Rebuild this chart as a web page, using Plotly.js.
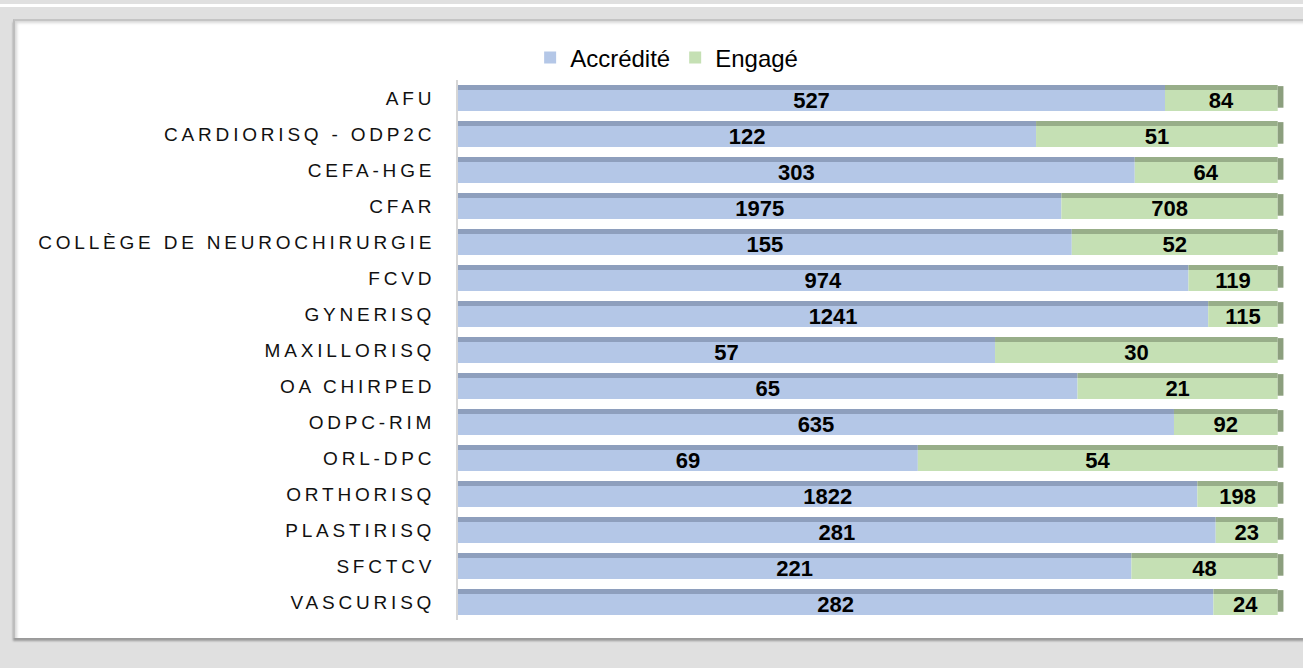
<!DOCTYPE html>
<html>
<head>
<meta charset="utf-8">
<script src="https://cdn.plot.ly/plotly-3.0.1.min.js"></script>
<style>
  html, body { margin:0; padding:0; width:1303px; height:668px; overflow:hidden; background:#e0e0e0; }
  #topline { position:absolute; left:0; top:4px; width:1303px; height:3px; background:#ffffff; }
  #panel { position:absolute; left:13px; top:19px; width:1300px; height:617px; background:#ffffff;
           border-left:2px solid #bdbdbd; border-top:2px solid #c4c4c4;
           box-shadow: inset 3px 3px 3px -1px #d8d8d8, 0 3px 2px #9a9a9a; }
  #chart { position:absolute; left:0; top:0; width:1303px; height:668px; }
  .ytick text { letter-spacing: 3.8px; }
</style>
</head>
<body>
<div id="topline"></div>
<div id="panel"></div>
<div id="chart"></div>
<script>
const categories = ["AFU","CARDIORISQ - ODP2C","CEFA-HGE","CFAR","COLLÈGE DE NEUROCHIRURGIE","FCVD","GYNERISQ","MAXILLORISQ","OA CHIRPED","ODPC-RIM","ORL-DPC","ORTHORISQ","PLASTIRISQ","SFCTCV","VASCURISQ"];
const accredite = [527,122,303,1975,155,974,1241,57,65,635,69,1822,281,221,282];
const engage = [84,51,64,708,52,119,115,30,21,92,54,198,23,48,24];

const totals = accredite.map((a,i)=>a+engage[i]);
const pA = accredite.map((a,i)=>100*a/totals[i]);
const pE = engage.map((e,i)=>100*e/totals[i]);
const pEnd = pA.map((a,i)=>a+pE[i]);
const depth = categories.map(()=>0.7);

const blue = '#b4c7e7', blueTop = '#8e9fbd';
const green = '#c5e0b4', greenTop = '#98ae89', greenSide = '#8c9f7e';
const txtFont = {family:'Liberation Sans, Arial, sans-serif', size:22, color:'#000000', weight:'bold'};

const traces = [
  {type:'bar', orientation:'h', name:'Accrédité', y:categories, x:pA, base:0,
   marker:{color:blue}, width:0.58, offset:-0.22, text:accredite.map(String), textposition:'inside',
   insidetextanchor:'middle', textangle:0, textfont:txtFont, constraintext:'none', hoverinfo:'skip'},
  {type:'bar', orientation:'h', name:'Engagé', y:categories, x:pE, base:pA,
   marker:{color:green}, width:0.58, offset:-0.22, text:engage.map(String), textposition:'inside',
   insidetextanchor:'middle', textangle:0, textfont:txtFont, constraintext:'none', hoverinfo:'skip'},
  {type:'bar', orientation:'h', name:'topA', y:categories, x:pA, base:0,
   marker:{color:blueTop}, width:0.14, offset:-0.36, showlegend:false, hoverinfo:'skip'},
  {type:'bar', orientation:'h', name:'topE', y:categories, x:pE, base:pA,
   marker:{color:greenTop}, width:0.14, offset:-0.36, showlegend:false, hoverinfo:'skip'},
  {type:'bar', orientation:'h', name:'sideE', y:categories, x:depth, base:pEnd,
   marker:{color:greenSide}, width:0.6, offset:-0.33, showlegend:false, hoverinfo:'skip'}
];

const layout = {
  width:1303, height:668,
  paper_bgcolor:'rgba(0,0,0,0)', plot_bgcolor:'rgba(0,0,0,0)',
  margin:{l:458, r:13, t:80, b:48},
  barmode:'overlay',
  showlegend:true,
  legend:{orientation:'h', x:0.088*100/101.5, xanchor:'left', y:1.0407, yanchor:'middle',
          font:{family:'Liberation Sans, Arial, sans-serif', size:24, color:'#000'},
          bgcolor:'rgba(0,0,0,0)', itemwidth:30, traceorder:'normal'},
  xaxis:{range:[0,101.5], visible:false, fixedrange:true},
  yaxis:{type:'category', categoryorder:'array', categoryarray:categories, autorange:'reversed',
         showgrid:false, zeroline:false, showline:true, linecolor:'#d6d6d6', linewidth:2,
         ticks:'outside', ticklen:17, tickcolor:'rgba(0,0,0,0)',
         tickfont:{family:'Liberation Sans, Arial, sans-serif', size:19, color:'#111'}},
  font:{family:'Liberation Sans, Arial, sans-serif'}
};

Plotly.newPlot('chart', traces, layout, {displayModeBar:false, staticPlot:true});
</script>
</body>
</html>
